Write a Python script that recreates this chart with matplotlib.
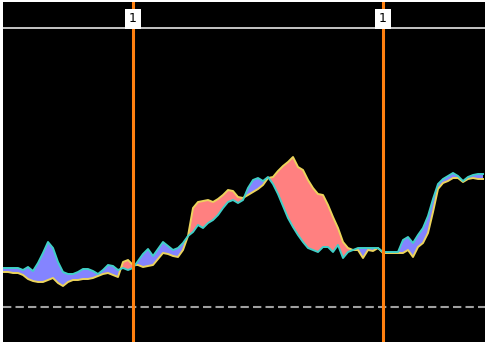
import numpy as np
import matplotlib
matplotlib.use("Agg")
import matplotlib.pyplot as plt

# two oscillating series, sampled every bar
fast = [35, 35, 34, 34, 32, 28, 26, 25, 25, 27,
        29, 24, 21, 25, 27, 27, 28, 28, 29, 31,
        33, 34, 32, 30, 45, 47, 42, 42, 40, 41,
        42, 48, 54, 53, 51, 50, 57, 71, 99, 105,
        106, 107, 105, 108, 112, 117, 116, 110, 109, 112,
        115, 118, 122, 129, 130, 136, 141, 145, 150, 140,
        137, 127, 119, 113, 112, 102, 90, 79, 65, 59,
        57, 57, 49, 57, 56, 59, 54, 54, 54, 54,
        54, 57, 50, 60, 64, 74, 95, 118, 124, 126,
        129, 129, 125, 128, 129, 128, 128]
slow = [39, 39, 39, 39, 37, 40, 36, 44, 54, 65,
        59, 45, 35, 33, 33, 35, 38, 38, 36, 33,
        37, 42, 41, 37, 39, 37, 39, 46, 53, 58,
        51, 58, 65, 61, 57, 59, 64, 71, 75, 82,
        79, 84, 87, 92, 99, 105, 107, 104, 107, 119,
        127, 129, 126, 130, 123, 113, 101, 89, 80, 72,
        65, 59, 57, 55, 60, 60, 55, 62, 49, 55,
        57, 59, 59, 59, 59, 59, 55, 55, 55, 55,
        67, 70, 64, 72, 79, 91, 108, 123, 128, 131,
        134, 131, 126, 130, 132, 133, 133]
signal_bars = [26, 76]
signal_labels = ["1", "1"]
upper_level = 279
lower_level = 0

fast = np.array(fast, dtype=float)
slow = np.array(slow, dtype=float)
x = np.arange(len(fast))

fig = plt.figure(figsize=(4.88, 3.42), dpi=100, facecolor="white")
ax = fig.add_axes([3 / 488, 0, 482 / 488, 340 / 342])
ax.set_facecolor("black")

ax.fill_between(x, fast, slow, where=slow >= fast, interpolate=True,
                color="#8484ff", lw=0)
ax.fill_between(x, fast, slow, where=fast >= slow, interpolate=True,
                color="#ff8080", lw=0)
ax.plot(x, fast, color="#ecd45c", lw=1.4)
ax.plot(x, slow, color="#40d0c8", lw=1.4)

ax.axhline(upper_level, color="#e6e6e6", lw=1.2)
ax.axhline(lower_level, color="#a0a0a0", lw=1.5, dashes=(4, 2))

for b, lab in zip(signal_bars, signal_labels):
    ax.axvline(b, color="#ff8010", lw=2.2, zorder=5)
    ax.text(b, 288, lab, ha="center", va="center", fontsize=9, color="black",
            zorder=6, bbox=dict(boxstyle="square,pad=0.3", fc="white", ec="none"))

ax.set_xlim(0, 96.4)
ax.set_ylim(-35, 305)
ax.set_xticks([])
ax.set_yticks([])
for s in ax.spines.values():
    s.set_visible(False)

fig.savefig("out.png", dpi=100, facecolor="white")
